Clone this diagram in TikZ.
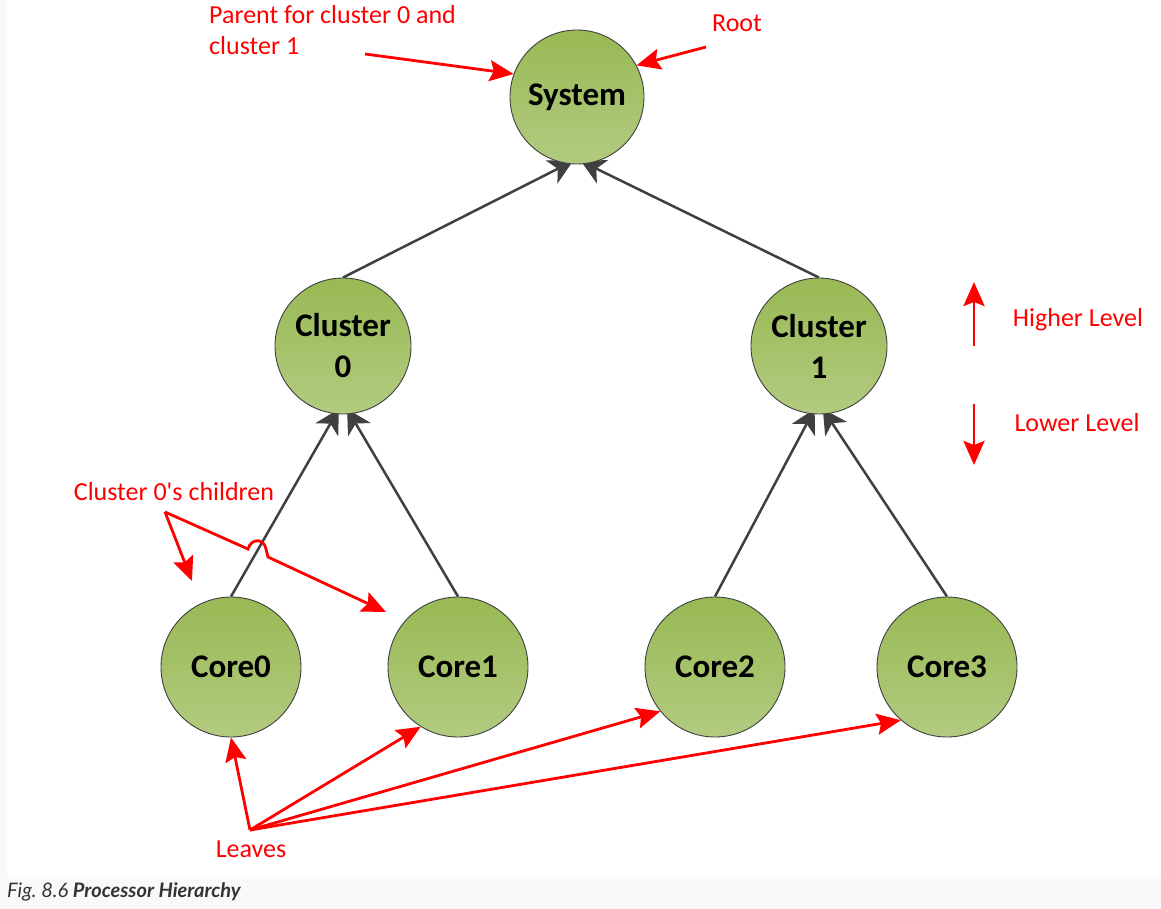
\documentclass[tikz,border=0pt]{standalone}
\usepackage{fontspec}
\setmainfont{Carlito}
\newfontfamily\redfont{Carlito}[Ligatures=TeXOff]
\newfontfamily\capfont{Lato}
\usetikzlibrary{arrows.meta,backgrounds}
\definecolor{nodetop}{RGB}{152,185,84}
\definecolor{nodebot}{RGB}{178,203,128}
\definecolor{edgegray}{RGB}{64,64,64}
\definecolor{annred}{RGB}{255,0,0}
\definecolor{capgray}{RGB}{249,249,249}
\definecolor{captext}{RGB}{51,51,51}
\tikzset{
  proc/.style={circle, draw=edgegray, line width=0.9pt, top color=nodetop, bottom color=nodebot,
    inner sep=0pt, font=\fontsize{33}{41}\selectfont\bfseries, align=center},
  edge/.style={draw=edgegray, line width=2.5pt, shorten >=-6pt, -{Stealth[length=24pt,width=26pt,inset=7pt]}},
  ann/.style={draw=annred, line width=2.8pt, -{Stealth[length=24pt,width=21pt,inset=4pt]}},
  anntext/.style={text=annred, font=\redfont\fontsize{26}{31}\selectfont, inner sep=0pt},
}
\begin{document}
\frenchspacing
\begin{tikzpicture}[x=1pt,y=-1pt]
\useasboundingbox (0,0) rectangle (1161,909);

% nodes
\node[proc, minimum size=134pt] (sys) at (577,97) {System};
\node[proc, minimum size=136pt] (c0) at (343,346) {Cluster\\0};
\node[proc, minimum size=136pt] (c1) at (819,346) {Cluster\\1};
\node[proc, minimum size=140pt] (k0) at (231,667) {Core0};
\node[proc, minimum size=140pt] (k1) at (458,667) {Core1};
\node[proc, minimum size=140pt] (k2) at (715,667) {Core2};
\node[proc, minimum size=140pt] (k3) at (947,667) {Core3};

\begin{pgfonlayer}{background}
\fill[capgray] (0,0) rectangle (1161,909);
\fill[white] (7,0) rectangle (1161,877);
% tree edges (tips hidden behind the parent circle)
\draw[edge] (c0.north) -- (sys.262);
\draw[edge] (c1.north) -- (sys.278);
\draw[edge] (k0.north) -- (c0.264);
\draw[edge] (k1.north) -- (c0.276);
\draw[edge] (k2.north) -- (c1.264);
\draw[edge] (k3.north) -- (c1.276);
\end{pgfonlayer}

% annotations
\node[anntext, anchor=north west, align=left] (ptext) at (209,5) {Parent for cluster 0 and\\cluster 1};
\coordinate (pstart) at (365,54);
\draw[ann] (pstart) -- (sys.160);

\node[anntext] (root) at (737,23) {Root};
\coordinate (rstart) at (706,47);
\draw[ann] (rstart) -- (sys.28);

\node[anntext] (higher) at (1078,320) {Higher Level};
\node[anntext] (lower) at (1077,423) {Lower Level};
\coordinate (upbot) at (974,346);
\coordinate (uptop) at (974,282);
\coordinate (dntop) at (974,404);
\coordinate (dnbot) at (974,465);
\draw[ann] (upbot) -- (uptop);
\draw[ann] (dntop) -- (dnbot);

\node[anntext] (children) at (174,492) {Cluster 0's children};
\coordinate (chs) at (165,512);
\coordinate (chl) at (192,581);
\coordinate (chr) at (386,612);
\draw[ann] (chs) -- (chl);
\draw[ann] (chs) -- (248,549) .. controls (251,538) and (264,538) .. (266,549) -- (268,557) -- (chr);

\node[anntext] (leaves) at (251,849) {Leaves};
\coordinate (ls) at (250,830);
\draw[ann] (ls) -- (k0.south);
\draw[ann] (ls) -- (k1.238);
\draw[ann] (ls) -- (k2.219);
\draw[ann] (ls) -- (k3.229);

% caption
\node[anchor=base west, inner sep=0pt, text=captext, font=\capfont\fontsize{20}{24}\selectfont] (cap) at (7,897)
  {\itshape Fig. 8.6 {\bfseries Processor Hierarchy}};
\end{tikzpicture}
\end{document}
